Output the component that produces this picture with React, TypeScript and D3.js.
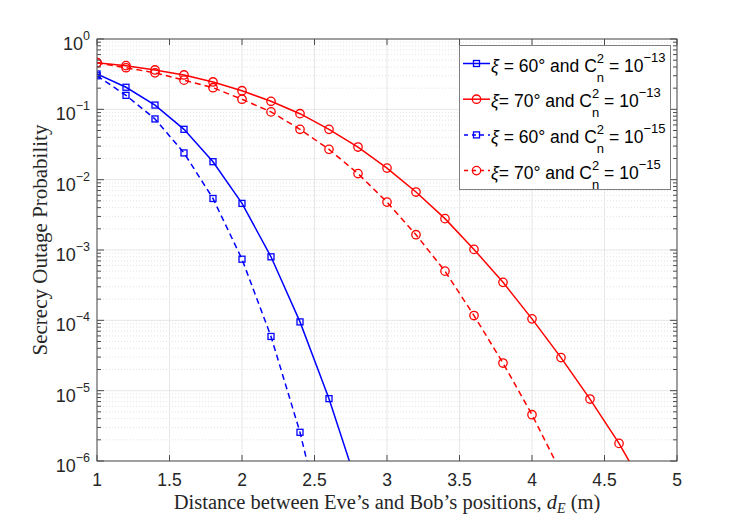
import { useRef, useEffect } from 'react';
import * as d3 from 'd3';

// distances (m) at which the curves were evaluated
const distances = [1, 1.2, 1.4, 1.6, 1.8, 2, 2.2, 2.4, 2.6, 2.8, 3, 3.2, 3.4, 3.6, 3.8, 4, 4.2, 4.4, 4.6, 4.8];

// secrecy outage probability per curve
const sop60strong = [0.318, 0.206, 0.115, 0.052, 0.018, 0.0046, 0.0008, 9.5e-5, 7.7e-6, 4.2e-7];
const sop70strong = [0.46, 0.418, 0.363, 0.308, 0.245, 0.184, 0.13, 0.0867, 0.0519, 0.0291, 0.0146, 0.00667, 0.00279, 0.00102, 3.47e-4, 1.05e-4, 2.95e-5, 7.6e-6, 1.78e-6, 3.4e-7];
const sop60weak = [0.3, 0.158, 0.073, 0.024, 0.0054, 7.4e-4, 5.9e-5, 2.56e-6, 5e-8];
const sop70weak = [0.46, 0.39, 0.33, 0.26, 0.203, 0.139, 0.092, 0.052, 0.027, 0.0122, 0.0048, 0.00165, 5e-4, 1.17e-4, 2.47e-5, 4.55e-6, 6.9e-7];

const xTicks = [1, 1.5, 2, 2.5, 3, 3.5, 4, 4.5, 5];
const yExponents = [0, -1, -2, -3, -4, -5, -6];

const series = [
  { name: '60', sep: ' = ', exp: '−13', values: sop60strong, color: '#0000ff', marker: 'square', dashed: false },
  { name: '70', sep: '= ', exp: '−13', values: sop70strong, color: '#ff0000', marker: 'circle', dashed: false },
  { name: '60', sep: ' = ', exp: '−15', values: sop60weak, color: '#0000ff', marker: 'square', dashed: true },
  { name: '70', sep: '= ', exp: '−15', values: sop70weak, color: '#ff0000', marker: 'circle', dashed: true },
];

const width = 747;
const height = 523;
const margin = { top: 39, right: 70, bottom: 62, left: 97 };

export default function App() {
  const ref = useRef<SVGSVGElement>(null);

  useEffect(() => {
    if (!ref.current) return;
    const svg = d3.select(ref.current);
    svg.selectAll('*').remove();

    const innerWidth = width - margin.left - margin.right;
    const innerHeight = height - margin.top - margin.bottom;
    const sans = 'Liberation Sans, Arial, sans-serif';
    const serif = 'Liberation Serif, Times New Roman, serif';

    const x = d3.scaleLinear().domain([1, 5]).range([0, innerWidth]);
    const y = d3.scaleLog().domain([1e-6, 1]).range([innerHeight, 0]);

    svg.append('rect').attr('width', width).attr('height', height).attr('fill', '#fff');

    const g = svg.append('g').attr('transform', `translate(${margin.left},${margin.top})`);

    svg.append('defs').append('clipPath').attr('id', 'plot-clip')
      .append('rect').attr('width', innerWidth).attr('height', innerHeight);

    // minor grid (dotted)
    const minor: number[] = [];
    for (let e = -6; e < 0; e++) for (let m = 2; m <= 9; m++) minor.push(m * Math.pow(10, e));
    g.append('g').selectAll('line').data(minor).enter().append('line')
      .attr('x1', 0).attr('x2', innerWidth)
      .attr('y1', (d) => y(d)).attr('y2', (d) => y(d))
      .attr('stroke', '#dcdcdc').attr('stroke-width', 0.8).attr('stroke-dasharray', '1,2');

    // major grid
    g.append('g').selectAll('line').data(yExponents).enter().append('line')
      .attr('x1', 0).attr('x2', innerWidth)
      .attr('y1', (d) => y(Math.pow(10, d))).attr('y2', (d) => y(Math.pow(10, d)))
      .attr('stroke', '#e6e6e6').attr('stroke-width', 1);
    g.append('g').selectAll('line').data(xTicks).enter().append('line')
      .attr('x1', (d) => x(d)).attr('x2', (d) => x(d))
      .attr('y1', 0).attr('y2', innerHeight)
      .attr('stroke', '#e6e6e6').attr('stroke-width', 1);

    // curves
    const plot = g.append('g').attr('clip-path', 'url(#plot-clip)');
    const line = d3.line<number>()
      .x((_, i) => x(distances[i]))
      .y((d) => y(d));

    const drawMarker = (sel: any, kind: string, color: string) => {
      if (kind === 'square') {
        sel.append('rect').attr('x', -3).attr('y', -3).attr('width', 6).attr('height', 6)
          .attr('fill', 'none').attr('stroke', color).attr('stroke-width', 1.3);
      } else {
        sel.append('circle').attr('r', 4.2)
          .attr('fill', 'none').attr('stroke', color).attr('stroke-width', 1.3);
      }
    };

    series.forEach((s) => {
      plot.append('path')
        .datum(s.values)
        .attr('fill', 'none')
        .attr('stroke', s.color)
        .attr('stroke-width', 1.5)
        .attr('stroke-dasharray', s.dashed ? '6,4' : null)
        .attr('d', line);
      const pts = s.values
        .map((v, i) => ({ x: distances[i], v }))
        .filter((p) => p.v >= 1e-6);
      pts.forEach((p) => {
        const mg = plot.append('g').attr('transform', `translate(${x(p.x)},${y(p.v)})`);
        drawMarker(mg, s.marker, s.color);
      });
    });

    // axes box and ticks
    const axisColor = '#4d4d4d';
    g.append('rect').attr('width', innerWidth).attr('height', innerHeight)
      .attr('fill', 'none').attr('stroke', axisColor).attr('stroke-width', 1);

    const ticks = g.append('g').attr('stroke', axisColor).attr('stroke-width', 1);
    xTicks.forEach((t) => {
      ticks.append('line').attr('x1', x(t)).attr('x2', x(t)).attr('y1', innerHeight).attr('y2', innerHeight - 6);
      ticks.append('line').attr('x1', x(t)).attr('x2', x(t)).attr('y1', 0).attr('y2', 6);
    });
    yExponents.forEach((e) => {
      const yy = y(Math.pow(10, e));
      ticks.append('line').attr('x1', 0).attr('x2', 7).attr('y1', yy).attr('y2', yy);
      ticks.append('line').attr('x1', innerWidth).attr('x2', innerWidth - 7).attr('y1', yy).attr('y2', yy);
    });
    minor.forEach((m) => {
      const yy = y(m);
      ticks.append('line').attr('x1', 0).attr('x2', 4).attr('y1', yy).attr('y2', yy);
      ticks.append('line').attr('x1', innerWidth).attr('x2', innerWidth - 4).attr('y1', yy).attr('y2', yy);
    });

    // x tick labels
    g.append('g').selectAll('text').data(xTicks).enter().append('text')
      .attr('x', (d) => x(d)).attr('y', innerHeight + 24.5)
      .attr('text-anchor', 'middle')
      .attr('font-family', sans).attr('font-size', 17.5).attr('fill', '#262626')
      .text((d) => String(d));

    // y tick labels 10^e
    yExponents.forEach((e) => {
      const yy = y(Math.pow(10, e));
      const t = g.append('text')
        .attr('x', -7).attr('y', yy + 11)
        .attr('text-anchor', 'end')
        .attr('font-family', sans).attr('font-size', 18).attr('fill', '#262626');
      t.append('tspan').text('10');
      t.append('tspan').attr('dy', -10).attr('font-size', 12.5).text(e === 0 ? '0' : `−${-e}`);
    });

    // axis labels
    const xl = svg.append('text')
      .attr('x', margin.left + innerWidth / 2).attr('y', 509)
      .attr('text-anchor', 'middle')
      .attr('font-family', serif).attr('font-size', 20.5).attr('fill', '#262626');
    xl.append('tspan').text('Distance between Eve’s and Bob’s positions, ');
    xl.append('tspan').attr('font-style', 'italic').text('d');
    xl.append('tspan').attr('font-style', 'italic').attr('font-size', 14).attr('dy', 4).text('E');
    xl.append('tspan').attr('dy', -4).text(' (m)');

    svg.append('text')
      .attr('transform', `translate(47,240) rotate(-90)`)
      .attr('text-anchor', 'middle')
      .attr('font-family', serif).attr('font-size', 21).attr('fill', '#262626')
      .text('Secrecy Outage Probability');

    // legend
    const legend = svg.append('g');
    legend.append('rect')
      .attr('x', 459.5).attr('y', 45.5).attr('width', 211).attr('height', 144)
      .attr('fill', '#fff').attr('stroke', '#808080').attr('stroke-width', 1);

    series.forEach((s, i) => {
      const cy = 63.5 + i * 35.7;
      legend.append('line')
        .attr('x1', 463).attr('x2', 490).attr('y1', cy).attr('y2', cy)
        .attr('stroke', s.color).attr('stroke-width', 1.5)
        .attr('stroke-dasharray', s.dashed ? '4,4' : null)
        .attr('stroke-dashoffset', s.dashed ? -1 : null);
      const mg = legend.append('g').attr('transform', `translate(476.5,${cy})`);
      drawMarker(mg, s.marker, s.color);

      const t = legend.append('text')
        .attr('x', 491).attr('y', cy + 8)
        .attr('font-family', sans).attr('font-size', 17.5).attr('fill', '#000');
      t.append('tspan').attr('font-style', 'italic').text('ξ');
      t.append('tspan').text(`${s.sep}${s.name}° and C`);
      t.append('tspan').attr('font-size', 13).attr('dy', -9).text('2');
      t.append('tspan').attr('font-size', 13).attr('dx', -7.2).attr('dy', 19).text('n');
      t.append('tspan').attr('dy', -10).text(' = 10');
      t.append('tspan').attr('font-size', 13).attr('dy', -10).text(s.exp);
    });
  }, []);

  return (
    <svg
      ref={ref}
      width={width}
      height={height}
      style={{ position: 'absolute', left: 0, top: 0 }}
    />
  );
}
